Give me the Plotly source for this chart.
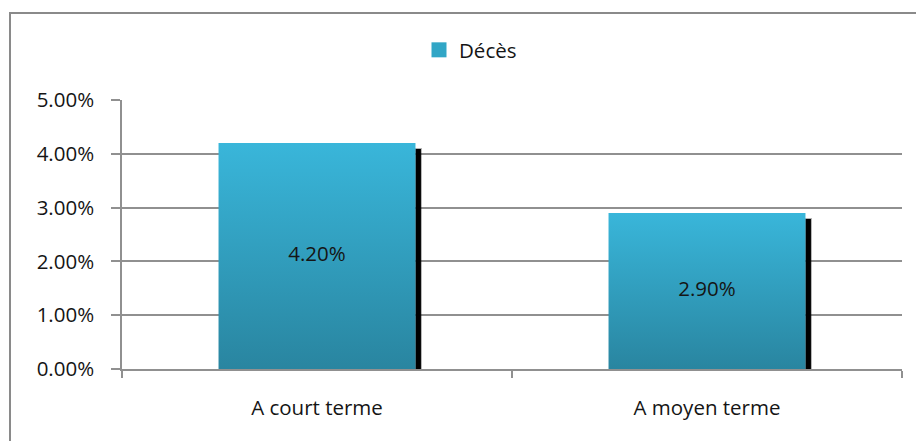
import plotly.graph_objects as go

# Data
categories = ["A court terme", "A moyen terme"]
deces = [0.042, 0.029]
series_name = "Décès"
y_ticks = [0.0, 0.01, 0.02, 0.03, 0.04, 0.05]

# Styling
BAR_WIDTH = 0.505          # fraction of a category slot
SHADOW_W = 0.014           # shadow width in category units
SHADOW_DROP = 0.0011       # shadow drop in y units
TOP_COLOR = "#39B6DA"
BOTTOM_COLOR = "#2985A0"
GRID = "#909090"
FONT = "Open Sans"
FS = 20.5
TXT = "#151515"

W, H = 916, 441
ML, MR, MT, MB = 122, 14, 100, 72

fig = go.Figure()

for i, v in enumerate(deces):
    left, right = i - BAR_WIDTH / 2, i + BAR_WIDTH / 2
    # drop shadow on the right side of the bar
    fig.add_trace(go.Scatter(
        x=[right, right, right + SHADOW_W, right + SHADOW_W, right],
        y=[0, v - SHADOW_DROP, v - SHADOW_DROP, 0, 0],
        fill="toself", mode="lines",
        fillcolor="#000000",
        line=dict(color="rgba(0,0,0,0.30)", width=2),
        hoverinfo="skip", showlegend=False,
    ))
    # bar body with vertical gradient
    fig.add_trace(go.Scatter(
        x=[left, left, right, right, left],
        y=[0, v, v, 0, 0],
        fill="toself", mode="lines",
        line=dict(width=0),
        fillgradient=dict(type="vertical", start=0, stop=v,
                          colorscale=[[0, BOTTOM_COLOR], [1, TOP_COLOR]]),
        name=series_name, showlegend=False,
        hovertemplate=f"{categories[i]}: {v:.2%}<extra></extra>",
    ))

# value labels centred in each bar, on the category axis
fig.add_trace(go.Scatter(
    x=list(range(len(categories))),
    y=[v / 2 for v in deces],
    mode="text",
    text=[f"{v:.2%}" for v in deces],
    textposition="middle center",
    textfont=dict(family=FONT, size=FS, color=TXT),
    xaxis="x2", hoverinfo="skip", showlegend=False,
))

# legend entry
fig.add_trace(go.Scatter(
    x=[None], y=[None], mode="markers",
    marker=dict(symbol="square", size=15, color="#31A6C6"),
    name=series_name,
))

xr = [-0.5, len(categories) - 0.5]
pw = W - ML - MR
ph = H - MT - MB

fig.update_layout(
    width=W, height=H,
    margin=dict(l=ML, r=MR, t=MT, b=MB),
    paper_bgcolor="white", plot_bgcolor="white",
    font=dict(family=FONT, size=FS, color=TXT),
    showlegend=True,
    legend=dict(orientation="h", x=(419 - ML) / pw, xanchor="left",
                y=(H - MB - 50) / ph, yanchor="middle",
                font=dict(family=FONT, size=FS, color=TXT),
                bgcolor="rgba(0,0,0,0)"),
    xaxis=dict(range=xr, tickvals=[-0.5 + k for k in range(len(categories) + 1)],
               ticktext=[""] * (len(categories) + 1),
               ticks="outside", ticklen=7, tickwidth=1.5, tickcolor=GRID,
               showline=True, linecolor=GRID, linewidth=1.5,
               showgrid=False, zeroline=False, fixedrange=True),
    xaxis2=dict(range=xr, overlaying="x", side="bottom", anchor="y",
                tickvals=list(range(len(categories))), ticktext=categories,
                ticks="", showline=False, showgrid=False, zeroline=False,
                ticklabelstandoff=24,
                tickfont=dict(family=FONT, size=FS, color=TXT)),
    yaxis=dict(range=[0, 0.05], tickvals=y_ticks, tickformat=".2%",
               ticks="outside", ticklen=9, tickwidth=1.5, tickcolor=GRID,
               showline=True, linecolor=GRID, linewidth=1.5,
               showgrid=True, gridcolor=GRID, gridwidth=1.5,
               zeroline=False, ticklabelstandoff=13,
               tickfont=dict(family=FONT, size=FS, color=TXT)),
)

# chart frame
fig.add_shape(type="rect", xref="paper", yref="paper",
              x0=(10 - ML) / pw, x1=(W + 10 - ML) / pw,
              y0=-(MB + 10) / ph, y1=(H - MB - 13) / ph,
              line=dict(color="#8a8a8a", width=2), layer="below")

fig.write_html("out.html")
